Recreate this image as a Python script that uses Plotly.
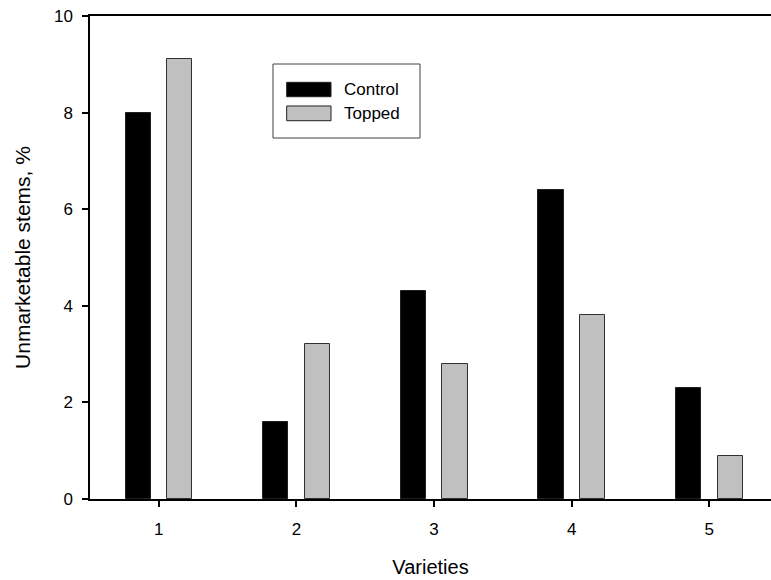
import plotly.graph_objects as go

# Unmarketable stems (%) per variety, control vs. topped plants
varieties = [1, 2, 3, 4, 5]
control = [8.0, 1.6, 4.3, 6.4, 2.3]
topped = [9.1, 3.2, 2.8, 3.8, 0.9]
y_ticks = [0, 2, 4, 6, 8, 10]
series_names = ["Control", "Topped"]
series_colors = ["#000000", "#c0c0c0"]

FONT = "Liberation Sans, Arial, sans-serif"
BAR_W = 0.184

fig = go.Figure()
fig.add_trace(go.Bar(
    x=varieties, y=control, name=series_names[0],
    width=BAR_W, offset=-0.242,
    marker=dict(color=series_colors[0], line=dict(color="#202020", width=1)),
    showlegend=False,
))
fig.add_trace(go.Bar(
    x=varieties, y=topped, name=series_names[1],
    width=BAR_W, offset=0.060,
    marker=dict(color=series_colors[1], line=dict(color="#303030", width=1)),
    showlegend=False,
))

# Boxed legend drawn in paper coordinates
shapes = [
    dict(type="rect", xref="paper", yref="paper",
         x0=0.2687, x1=0.4846, y0=0.7474, y1=0.9006,
         line=dict(color="#404040", width=1), fillcolor="white"),
]
annotations = []
sw_y = [(0.8329, 0.8627), (0.7832, 0.8137)]
txt_y = [0.8478, 0.7985]
for name, color, (y0, y1), ty in zip(series_names, series_colors, sw_y, txt_y):
    shapes.append(dict(type="rect", xref="paper", yref="paper",
                       x0=0.2888, x1=0.3539, y0=y0, y1=y1,
                       line=dict(color="#202020", width=1), fillcolor=color))
    annotations.append(dict(xref="paper", yref="paper", x=0.370, y=ty,
                            text=name, showarrow=False, xanchor="left",
                            yanchor="middle",
                            font=dict(family=FONT, size=17, color="black")))

fig.update_layout(
    width=771, height=580,
    margin=dict(l=90, r=0, t=16, b=81),
    paper_bgcolor="white", plot_bgcolor="white",
    font=dict(family=FONT, size=17, color="black"),
    bargap=0, shapes=shapes, annotations=annotations,
)
fig.update_xaxes(
    range=[0.5, 5.448], tickvals=varieties, ticktext=[str(v) for v in varieties],
    showgrid=False, zeroline=False,
    showline=True, linecolor="black", linewidth=1.5, mirror=True,
    ticks="outside", ticklen=6, tickwidth=1.5, tickcolor="black",
    ticklabelstandoff=8,
    title=dict(text="Varieties", font=dict(size=20), standoff=22),
)
fig.update_yaxes(
    range=[0, 10], tickvals=y_ticks,
    showgrid=False, zeroline=False,
    showline=True, linecolor="black", linewidth=1.5,
    ticks="outside", ticklen=6, tickwidth=1.5, tickcolor="black",
    ticklabelstandoff=6,
    title=dict(text="Unmarketable stems, %", font=dict(size=21), standoff=18),
)

fig.write_html("out.html")
